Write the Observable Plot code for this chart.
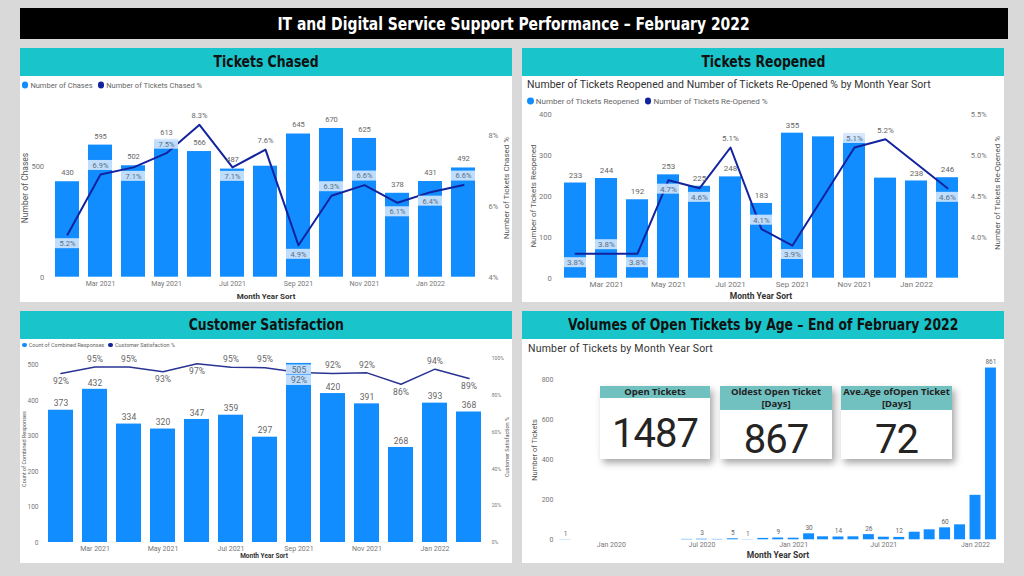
<!DOCTYPE html>
<html><head><meta charset="utf-8">
<script src="https://cdn.jsdelivr.net/npm/d3@7"></script>
<script src="https://cdn.jsdelivr.net/npm/@observablehq/plot@0.6"></script>
<style>
body{margin:0;background:#d9d9d9;width:1024px;height:576px;position:relative;overflow:hidden;font-family:Roboto,"Noto Sans",sans-serif}
.titlebar{position:absolute;left:20px;top:8px;width:988px;height:31px;background:#000;color:#fff;font:bold 18px "Liberation Sans Narrow","DejaVu Sans Condensed",Roboto,sans-serif;display:flex;align-items:center;justify-content:center}
.titlebar span{display:inline-block;transform:scaleX(0.86);white-space:nowrap}
.panel{position:absolute;background:#fff}
.phead{position:absolute;left:0;right:0;top:0;height:28px;background:#19c4ca;display:flex;align-items:center;justify-content:center;font:bold 15px "Liberation Sans Narrow","DejaVu Sans Condensed",Roboto,sans-serif;color:#111}
.phead span{display:inline-block;transform:scaleX(0.92);white-space:nowrap}
.pbody{position:absolute;left:0;right:0;top:28px;bottom:0}
.pbody svg{position:absolute;left:0;top:0;overflow:visible}
.vt{position:absolute;white-space:nowrap;transform:translate(-50%,-50%) rotate(-90deg);color:#555}
.ht{position:absolute;white-space:nowrap;transform:translate(-50%,-50%)}
.lt{position:absolute;white-space:nowrap;transform:translateY(-50%)}
.legend{position:absolute;white-space:nowrap;display:flex;align-items:center;color:#666;transform:translateY(-50%)}
.dot{display:inline-block;border-radius:50%;margin-right:2px}
.card{position:absolute;background:#fff;box-shadow:3px 4px 7px rgba(0,0,0,.35)}
.chead{background:#72c1c1;text-align:center;font:bold 9.5px "Segoe UI","Open Sans",Roboto,sans-serif;color:#222;line-height:12px}
.cval{position:absolute;left:0;right:0;text-align:center;transform:translateY(-50%);font:40px Roboto,sans-serif;color:#252423;letter-spacing:-1px;line-height:40px}
</style></head>
<body>
<div class="titlebar"><span>IT and Digital Service Support Performance – February 2022</span></div>

<div class="panel" style="left:20px;top:48px;width:492px;height:254px"><div class="phead"><span>Tickets Chased</span></div><div class="pbody" id="b1"></div></div>
<div class="panel" style="left:522px;top:48px;width:482px;height:254px"><div class="phead"><span>Tickets Reopened</span></div><div class="pbody" id="b2"></div></div>
<div class="panel" style="left:20px;top:311px;width:492px;height:252px"><div class="phead"><span>Customer Satisfaction</span></div><div class="pbody" id="b3"></div></div>
<div class="panel" style="left:522px;top:311px;width:482px;height:252px"><div class="phead"><span>Volumes of Open Tickets by Age – End of February 2022</span></div><div class="pbody" id="b4"></div></div>

<script>
// ---------------- DATA ----------------
const months = ["Feb 2021","Mar 2021","Apr 2021","May 2021","Jun 2021","Jul 2021","Aug 2021","Sep 2021","Oct 2021","Nov 2021","Dec 2021","Jan 2022","Feb 2022"];
const monthTicks = ["Mar 2021","May 2021","Jul 2021","Sep 2021","Nov 2021","Jan 2022"];

const chases = [430,595,502,613,566,487,500,645,670,625,378,431,492];
const chasedPct = [5.2,6.9,7.1,7.5,8.3,7.1,7.6,4.9,6.3,6.6,6.1,6.4,6.6];
const chasesLabelled = [1,1,1,1,1,1,0,1,1,1,1,1,1];
const chasedPctSide = [-1,1,-1,1,1,-1,1,-1,1,1,-1,-1,1];

const reopened = [233,244,192,253,225,248,183,355,346,340,245,238,246];
const reopenedPct = [3.8,3.8,3.8,4.7,4.6,5.1,4.1,3.9,4.5,5.1,5.2,4.9,4.6];
const reopenedLabelled = [1,1,1,1,1,1,1,1,0,0,0,1,1];
const reopenedPctSide = [-1,1,-1,-1,-1,1,1,-1,0,1,1,0,-1];

const responses = [373,432,334,320,347,359,297,505,420,391,268,393,368];
const satisfaction = [91.8,95.4,95.4,92.8,97.2,95.3,95.0,92.4,91.9,92.2,86.0,94.2,89.1];
const responsesLabelled = [1,1,1,1,1,1,1,1,1,1,1,1,1];
const satisfactionSide = [-1,1,1,-1,-1,1,1,-1,1,1,-1,1,-1];

const openMonths = ["2019-10","2020-06","2020-07","2020-08","2020-09","2020-10","2020-11","2020-12","2021-01","2021-02","2021-03","2021-04","2021-05","2021-06","2021-07","2021-08","2021-09","2021-10","2021-11","2021-12","2022-01","2022-02"];
const openCounts = [1,2,3,2,5,1,7,9,8,30,15,14,15,26,13,12,38,50,60,75,223,861];
const openLabelled = [1,0,1,0,1,1,0,1,0,1,0,1,0,1,0,1,0,0,1,0,0,1];
const openTicks = ["2020-01","2020-07","2021-01","2021-07","2022-01"];

const kpiOpen = 1487, kpiOldest = 867, kpiAvgAge = 72;

// ---------------- HELPERS ----------------
const BLUE = "#118DFF", NAVY = "#12239E", LBL = "#666", TICK = "#777";
const FONT = "Roboto, 'Noto Sans', sans-serif";

function add(parent, cls, text, css){
  const e = document.createElement("div"); e.className = cls; e.textContent = text;
  Object.assign(e.style, css); parent.appendChild(e); return e;
}
function legend(parent, x, y, fs, items){
  const l = document.createElement("div"); l.className = "legend";
  Object.assign(l.style, {left:x+"px", top:y+"px", fontSize:fs+"px"});
  items.forEach(([c,t],i)=>{
    const d = document.createElement("span"); d.className="dot";
    const r = Math.max(4, fs*0.85);
    Object.assign(d.style,{width:r+"px",height:r+"px",background:c,marginLeft:(i?fs*0.7:0)+"px"});
    l.appendChild(d); l.appendChild(document.createTextNode(t));
  });
  parent.appendChild(l);
}

function combo(o){
  const k = (o.yRange[0]-o.yRange[1])/(o.yDomain[1]-o.yDomain[0]);
  const data = months.map((m,i)=>({m, v:o.bars[i], p:o.pct[i], pv:o.toV(o.pct[i]), side:o.side[i], bl:o.barLbl[i]}));
  const hb = o.boxH/2/k;
  data.forEach(d=>{
    d.lv = d.pv + d.side*o.off/k;
    d.inside = o.insideAbove != null && d.v > o.insideAbove;
    d.blv = d.inside ? d.v - o.barOff/k : d.v;
  });
  const pctL = data.filter(d=>d.side!==0);
  const boxed = pctL.filter(d=>d.lv - hb < d.v);
  const barL = data.filter(d=>d.bl);
  const barIn = barL.filter(d=>d.inside), barOut = barL.filter(d=>!d.inside);
  return Plot.plot({
    width:o.width, height:o.height,
    marginLeft:o.xRange[0], marginRight:o.width-o.xRange[1], marginTop:o.yRange[1], marginBottom:o.height-o.yRange[0],
    style:{fontFamily:FONT, fontSize:"7px", background:"transparent", overflow:"visible"},
    x:{type:"band", domain:months, range:o.xRange, paddingInner:o.padIn, paddingOuter:o.padOut},
    y:{domain:o.yDomain, range:o.yRange},
    marks:[
      Plot.barY(data,{x:"m", y:"v", fill:BLUE}),
      Plot.line(data,{x:"m", y:"pv", stroke:o.lineColor||NAVY, strokeWidth:o.lineW}),
      Plot.barY(boxed,{x:"m", y1:d=>d.lv-hb, y2:d=>d.lv+hb, fill:"#d3e6fc", fillOpacity:0.9}),
      Plot.barY(barIn,{x:"m", y1:d=>d.blv-hb, y2:d=>d.blv+hb, fill:"#d3e6fc", fillOpacity:0.9}),
      Plot.text(barOut,{x:"m", y:"v", dy:-o.barOff, text:d=>String(d.v), fill:LBL, fontSize:o.fsBar}),
      Plot.text(barIn,{x:"m", y:"blv", text:d=>String(d.v), fill:"#5d6d7e", fontSize:o.fsBar}),
      Plot.text(pctL,{x:"m", y:"lv", text:o.pctFmt, fill:d=>(d.lv-hb<d.v)?"#5d6d7e":LBL, fontSize:o.fsPct}),
      Plot.axisX(monthTicks,{tickSize:0, tickPadding:o.xPad, fontSize:o.fsX, color:TICK, label:null}),
      Plot.axisY(o.leftTicks,{tickSize:0, tickPadding:o.lPad, fontSize:o.fsY, color:TICK, label:null}),
      Plot.axisY(o.rightTicks.map(o.toV),{anchor:"right", tickSize:0, tickPadding:o.rPad, fontSize:o.fsR, color:TICK, label:null, tickFormat:o.rightFmt})
    ]
  });
}

// ---------------- CHART 1 ----------------
{
  const b = document.getElementById("b1");
  const toV = p => (p-4)*159.6;
  b.appendChild(combo({width:492,height:226,xRange:[25.6,465],padIn:0.26,padOut:0.13,
    yDomain:[0,500],yRange:[200.7,89.7],bars:chases,pct:chasedPct,toV,side:chasedPctSide,barLbl:chasesLabelled,
    off:9,boxH:10,barOff:9,fsBar:7.5,fsPct:7.5,fsX:7,fsY:7.5,fsR:7.5,xPad:3.8,lPad:2,rPad:3,lineW:2,
    pctFmt:d=>d.p.toFixed(1)+"%",leftTicks:[0,500],rightTicks:[4,6,8],rightFmt:v=>Math.round(v/159.6+4)+"%"}));
  legend(b,2,9,7.5,[[BLUE,"Number of Chases"],[NAVY,"Number of Tickets Chased %"]]);
  add(b,"vt","Number of Chases",{left:"5px",top:"112px",fontSize:"8.5px"});
  add(b,"vt","Number of Tickets Chased %",{left:"486px",top:"112px",fontSize:"8px"});
  add(b,"ht","Month Year Sort",{left:"246px",top:"219.7px",fontSize:"8px",fontWeight:"bold",color:"#333"});
}
// ---------------- CHART 2 ----------------
{
  const b = document.getElementById("b2");
  const toV = p => (p-3.5)*200;
  b.appendChild(combo({width:482,height:226,xRange:[32.2,445.8],padIn:0.28,padOut:0.14,
    yDomain:[0,400],yRange:[201.7,38.3],bars:reopened,pct:reopenedPct,toV,side:reopenedPctSide,barLbl:reopenedLabelled,
    off:9,boxH:10,barOff:8,fsBar:8,fsPct:8,fsX:8,fsY:7.5,fsR:7.5,xPad:3.3,lPad:3,rPad:2.5,lineW:2,
    pctFmt:d=>d.p.toFixed(1)+"%",leftTicks:[0,100,200,300,400],rightTicks:[4,4.5,5,5.5],rightFmt:v=>(v/200+3.5).toFixed(1)+"%"}));
  add(b,"lt","Number of Tickets Reopened and Number of Tickets Re-Opened % by Month Year Sort",{left:"5px",top:"8px",fontSize:"10.5px",color:"#333",letterSpacing:"0.05px"});
  legend(b,5,25,8,[[BLUE,"Number of Tickets Reopened"],[NAVY,"Number of Tickets Re-Opened %"]]);
  add(b,"vt","Number of Tickets Reopened",{left:"10.7px",top:"120px",fontSize:"8px"});
  add(b,"vt","Number of Tickets Re-Opened %",{left:"474.7px",top:"116.5px",fontSize:"8px"});
  add(b,"ht","Month Year Sort",{left:"239px",top:"219.7px",fontSize:"8.5px",fontWeight:"bold",color:"#333"});
}
// ---------------- CHART 3 ----------------
{
  const b = document.getElementById("b3");
  const toV = p => p*5.189;
  b.appendChild(combo({width:492,height:224,xRange:[18.5,469.8],padIn:0.275,padOut:0.14,
    yDomain:[0,500],yRange:[203,25.7],bars:responses,pct:satisfaction,toV,side:satisfactionSide,barLbl:responsesLabelled,
    off:8,boxH:10,barOff:6.5,insideAbove:480,fsBar:8.5,fsPct:8.5,fsX:7,fsY:6.5,fsR:5,xPad:3.2,lPad:0.5,rPad:1.5,lineW:1.5,lineColor:"#2a3593",
    pctFmt:d=>Math.round(d.p)+"%",leftTicks:[0,100,200,300,400,500],rightTicks:[0,20,40,60,80,100],rightFmt:v=>Math.round(v/5.189)+"%"}));
  legend(b,2,6,5.5,[[BLUE,"Count of Combined Responses"],[NAVY,"Customer Satisfaction %"]]);
  add(b,"vt","Count of Combined Responses",{left:"4px",top:"109.8px",fontSize:"5.5px"});
  add(b,"vt","Customer Satisfaction %",{left:"486.7px",top:"108px",fontSize:"5.5px"});
  add(b,"ht","Month Year Sort",{left:"244px",top:"217px",fontSize:"6.5px",fontWeight:"bold",color:"#333"});
}
// ---------------- CHART 4 ----------------
{
  const b = document.getElementById("b4");
  const parse = d3.timeParse("%Y-%m");
  const data = openMonths.map((m,i)=>({date:parse(m), v:openCounts[i], lbl:openLabelled[i]}));
  b.appendChild(Plot.plot({
    width:482,height:224,marginLeft:35,marginRight:3.1,marginTop:40.7,marginBottom:23.7,
    style:{fontFamily:FONT,fontSize:"7px",background:"transparent",overflow:"visible"},
    x:{type:"time",domain:[new Date(2019,8,15),new Date(2022,1,22)],range:[35,478.9]},
    y:{domain:[0,800],range:[200.3,40.7]},
    marks:[
      Plot.rectY(data,{x1:d=>d3.timeDay.offset(d.date,-11),x2:d=>d3.timeDay.offset(d.date,11),y:"v",fill:BLUE}),
      Plot.text(data.filter(d=>d.lbl),{x:"date",y:"v",dy:-6,text:d=>String(d.v),fill:LBL,fontSize:6.5}),
      Plot.axisX(openTicks.map(parse),{tickSize:0,tickPadding:2.5,fontSize:7,color:TICK,label:null,tickFormat:d3.timeFormat("%b %Y")}),
      Plot.axisY([0,200,400,600,800],{tickSize:0,tickPadding:4,fontSize:7,color:TICK,label:null})
    ]
  }));
  add(b,"lt","Number of Tickets by Month Year Sort",{left:"6px",top:"9px",fontSize:"10.5px",color:"#333",letterSpacing:"0.2px"});
  add(b,"vt","Number of Tickets",{left:"11.7px",top:"110.7px",fontSize:"7.5px"});
  add(b,"ht","Month Year Sort",{left:"256px",top:"216.3px",fontSize:"8.5px",fontWeight:"bold",color:"#333"});

  const cards = [
    {left:78,w:110,head:["Open Tickets"],val:kpiOpen,vy:48.4},
    {left:198,w:112,head:["Oldest Open Ticket","[Days]"],val:kpiOldest,vy:54},
    {left:319,w:111,head:["Ave.Age ofOpen Ticket","[Days]"],val:kpiAvgAge,vy:54}
  ];
  cards.forEach(c=>{
    const e = document.createElement("div"); e.className="card";
    Object.assign(e.style,{left:c.left+"px",top:"47px",width:c.w+"px",height:"73px"});
    const h = document.createElement("div"); h.className="chead";
    c.head.forEach((t,i)=>{ if(i) h.appendChild(document.createElement("br")); h.appendChild(document.createTextNode(t)); });
    e.appendChild(h);
    const v = document.createElement("div"); v.className="cval"; v.style.top=c.vy+"px"; v.textContent=String(c.val);
    e.appendChild(v);
    b.appendChild(e);
  });
}
</script>
</body></html>
